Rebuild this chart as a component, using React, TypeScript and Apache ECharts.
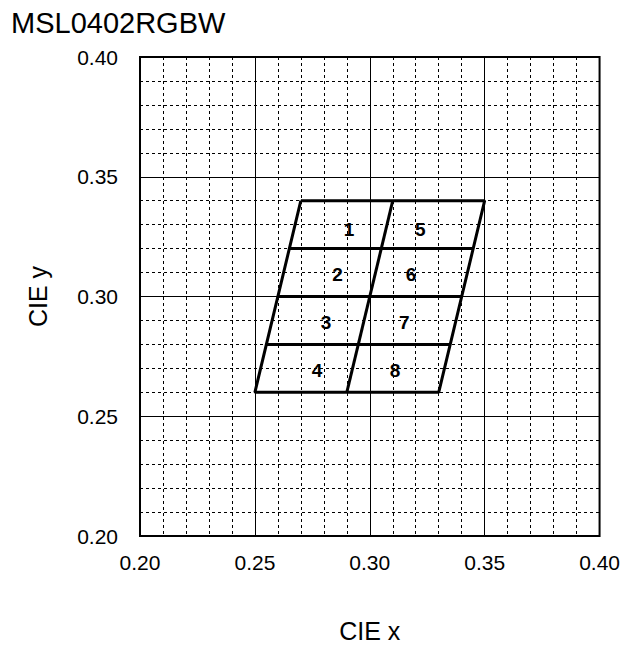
import React, { useEffect, useRef } from "react";
import * as echarts from "echarts";

const titleText = "MSL0402RGBW";
const xName = "CIE x";
const yName = "CIE y";

// bin region outline (closed)
const outline: [number, number][] = [
  [0.27, 0.34],
  [0.35, 0.34],
  [0.33, 0.26],
  [0.25, 0.26],
  [0.27, 0.34],
];
// inner dividers
const hLine1: [number, number][] = [[0.265, 0.32], [0.345, 0.32]];
const hLine2: [number, number][] = [[0.26, 0.30], [0.34, 0.30]];
const hLine3: [number, number][] = [[0.255, 0.28], [0.335, 0.28]];
const vLine: [number, number][] = [[0.31, 0.34], [0.29, 0.26]];

const binNames = ["1", "2", "3", "4", "5", "6", "7", "8"];
const binX = [0.291, 0.286, 0.281, 0.277, 0.322, 0.318, 0.315, 0.311];
const binY = [0.328, 0.309, 0.289, 0.269, 0.328, 0.309, 0.289, 0.269];

const FONT = "'Liberation Sans', Arial, Helvetica, sans-serif";

export default function App() {
  const ref = useRef<HTMLDivElement>(null);
  useEffect(() => {
    if (!ref.current) return;
    const chart = echarts.init(ref.current, null, { renderer: "svg" });
    const lineSeries = (data: [number, number][]) => ({
      type: "line",
      data,
      symbol: "none",
      silent: true,
      lineStyle: { color: "#000", width: 3 },
      z: 5,
    });
    const axisCommon = {
      type: "value",
      min: 0.2,
      max: 0.4,
      interval: 0.05,
      axisLine: { show: false },
      axisTick: { show: false },
      minorTick: { show: false, splitNumber: 5 },
      splitLine: { show: true, lineStyle: { color: "#000", width: 1 } },
      minorSplitLine: {
        show: true,
        lineStyle: { color: "#000", width: 1, type: [3, 3] },
      },
      axisLabel: {
        color: "#000",
        fontSize: 21,
        fontFamily: FONT,
        formatter: (v: number) => v.toFixed(2),
      },
      nameTextStyle: { color: "#000", fontSize: 25, fontFamily: FONT },
      nameLocation: "middle",
    };
    chart.setOption({
      animation: false,
      backgroundColor: "#fff",
      title: {
        text: titleText,
        left: 6,
        top: 3,
        textStyle: { color: "#000", fontSize: 29, fontWeight: "normal", fontFamily: FONT },
      },
      grid: {
        left: 140,
        right: 19,
        top: 57,
        bottom: 111,
        show: true,
        borderColor: "#000",
        borderWidth: 2,
        backgroundColor: "transparent",
      },
      xAxis: {
        ...axisCommon,
        name: xName,
        nameGap: 82,
        axisLabel: { ...axisCommon.axisLabel, margin: 16 },
      },
      yAxis: {
        ...axisCommon,
        name: yName,
        nameGap: 90,
        nameRotate: 90,
        axisLabel: { ...axisCommon.axisLabel, margin: 22 },
      },
      series: [
        lineSeries(outline),
        lineSeries(hLine1),
        lineSeries(hLine2),
        lineSeries(hLine3),
        lineSeries(vLine),
        {
          type: "scatter",
          data: binNames.map((n, i) => ({ name: n, value: [binX[i], binY[i]] })),
          symbolSize: 0,
          itemStyle: { color: "#000" },
          silent: true,
          z: 6,
          label: {
            show: true,
            position: "inside",
            formatter: (p: any) => p.name,
            color: "#000",
            opacity: 1,
            textBorderWidth: 0,
            fontSize: 19,
            fontWeight: "bold",
            fontFamily: FONT,
          },
        },
      ],
    });
    return () => chart.dispose();
  }, []);
  return <div ref={ref} style={{ width: 623, height: 648, position: "absolute", left: 0, top: 0 }} />;
}
